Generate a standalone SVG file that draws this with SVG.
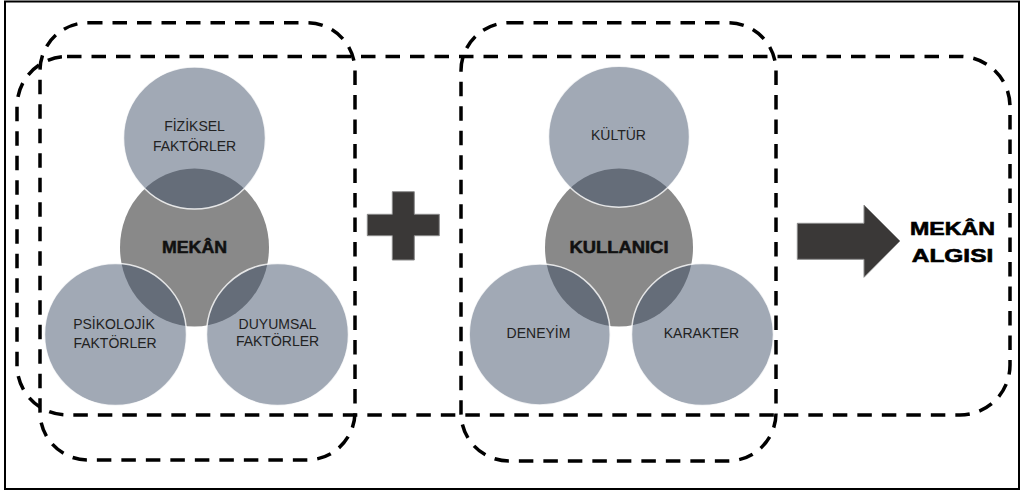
<svg xmlns="http://www.w3.org/2000/svg" width="1022" height="493" viewBox="0 0 1022 493">
  <style>
    .frame { fill: none; stroke: #000; stroke-width: 3.5; stroke-dasharray: 14.5 10; }
    .core { fill: #898989; }
    .petal { fill: rgb(64,80,105); fill-opacity: 0.49; stroke: #fff; stroke-width: 1.5; stroke-opacity: 0.8; }
    .lbl { font-family: "Liberation Sans", Arial, sans-serif; font-size: 14px; fill: #222; text-anchor: middle; }
    .core-lbl { font-family: "Liberation Sans", Arial, sans-serif; font-size: 16px; font-weight: bold; fill: #111; stroke: #111; stroke-width: 0.5; text-anchor: middle; }
    .big-lbl { font-family: "Liberation Sans", Arial, sans-serif; font-size: 18.5px; font-weight: bold; fill: #000; stroke: #000; stroke-width: 0.6; text-anchor: middle; }
    .solid { fill: #3a3837; stroke: #8a8a8a; stroke-width: 1; }
  </style>
  <rect id="border" x="5" y="1.5" width="1014" height="487.5" fill="#fff" stroke="#000" stroke-width="2"/>

  <g id="frame-wide"><rect class="frame" x="17" y="56.5" width="993" height="358.5" rx="50" ry="50"/></g>
  <g id="frame-mekan"><rect class="frame" x="40" y="22.7" width="315" height="437.3" rx="48" ry="48"/></g>
  <g id="frame-kullanici"><rect class="frame" x="461" y="22.7" width="315" height="438.3" rx="48" ry="48"/></g>

  <g id="mekan-cluster">
    <g id="mekan"><ellipse class="core" cx="194.5" cy="247.5" rx="74.5" ry="79"/></g>
    <g id="fiziksel"><circle class="petal" cx="194.5" cy="138" r="71"/></g>
    <g id="psikolojik"><circle class="petal" cx="115.5" cy="334.5" r="71"/></g>
    <g id="duyumsal"><circle class="petal" cx="277.5" cy="334.5" r="71"/></g>
    <text class="lbl" x="194.5" y="131">FİZİKSEL</text>
    <text class="lbl" x="194.5" y="151">FAKTÖRLER</text>
    <text class="core-lbl" x="194.5" y="253" textLength="65" lengthAdjust="spacingAndGlyphs">MEKÂN</text>
    <text class="lbl" x="114" y="329">PSİKOLOJİK</text>
    <text class="lbl" x="115" y="348">FAKTÖRLER</text>
    <text class="lbl" x="277.5" y="329">DUYUMSAL</text>
    <text class="lbl" x="277.5" y="346">FAKTÖRLER</text>
  </g>

  <g id="plus"><path class="solid" d="M392.3,191.7 H414.3 V214.3 H439.3 V235.7 H414.3 V260 H392.3 V235.7 H367.3 V214.3 H392.3 Z"/></g>

  <g id="kullanici-cluster">
    <g id="kullanici"><ellipse class="core" cx="619" cy="247.5" rx="74" ry="79"/></g>
    <g id="kultur"><circle class="petal" cx="619" cy="136.7" r="70.5"/></g>
    <g id="deneyim"><circle class="petal" cx="539.7" cy="334.5" r="70.5"/></g>
    <g id="karakter"><circle class="petal" cx="702.5" cy="334.5" r="71"/></g>
    <text class="lbl" x="618.5" y="140">KÜLTÜR</text>
    <text class="core-lbl" x="619" y="252.7" textLength="99" lengthAdjust="spacingAndGlyphs">KULLANICI</text>
    <text class="lbl" x="538.5" y="338">DENEYİM</text>
    <text class="lbl" x="701.5" y="338">KARAKTER</text>
  </g>

  <g id="connectors">
    <path class="solid" d="M797.3,223.3 H864 V205 L900,241 L864,277.3 V259.3 H797.3 Z"/>
  </g>

  <g id="mekan-algisi">
    <text class="big-lbl" x="952.5" y="235" textLength="85" lengthAdjust="spacingAndGlyphs">MEKÂN</text>
    <text class="big-lbl" x="952.5" y="261.7" textLength="81.5" lengthAdjust="spacingAndGlyphs">ALGISI</text>
  </g>
</svg>
